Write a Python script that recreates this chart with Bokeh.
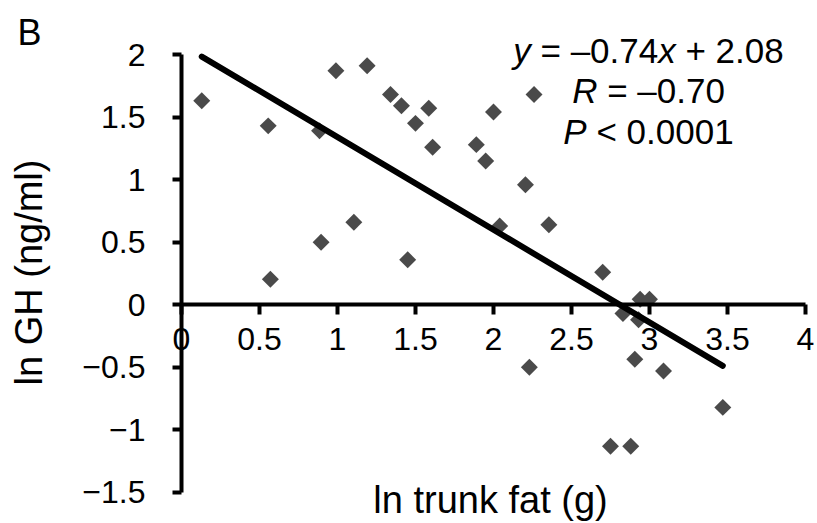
import numpy as np
from bokeh.plotting import figure
from bokeh.models import Range1d, LinearAxis, FixedTicker, Label
from bokeh.embed import file_html
from bokeh.resources import INLINE

# ln trunk fat (g) and ln GH (ng/ml) for each subject
ln_trunk_fat = [0.13, 0.556, 0.57, 0.885, 0.895, 0.99, 1.105, 1.19, 1.34, 1.41,
                1.45, 1.50, 1.585, 1.61, 1.89, 1.95, 2.00, 2.04, 2.205, 2.23,
                2.26, 2.355, 2.70, 2.75, 2.83, 2.88, 2.906, 2.93, 2.94, 3.00,
                3.09, 3.47]
ln_gh = [1.63, 1.43, 0.205, 1.39, 0.50, 1.87, 0.66, 1.91, 1.68, 1.59,
         0.36, 1.45, 1.57, 1.26, 1.28, 1.15, 1.54, 0.63, 0.96, -0.50,
         1.68, 0.64, 0.26, -1.13, -0.07, -1.13, -0.435, -0.12, 0.045, 0.045,
         -0.53, -0.82]

# Regression statistics
slope = -0.74
intercept = 2.08
r_value = -0.70
p_text = "< 0.0001"

x_ticks = [0, 0.5, 1, 1.5, 2, 2.5, 3, 3.5, 4]
x_tick_labels = ["0", "0.5", "1", "1.5", "2", "2.5", "3", "3.5", "4"]
y_ticks = [-1.5, -1, -0.5, 0, 0.5, 1, 1.5, 2]
y_tick_labels = ["\u22121.5", "\u22121", "\u22120.5", "0", "0.5", "1", "1.5", "2"]

FONT = "Liberation Sans"
PLOT_W, PLOT_H = 817, 523
# distance of the text's alphabetic baseline from the anchor Bokeh places it at
BASELINE_SHIFT = 0.3465


def at(px, py, size, angle=0.0):
    """Screen position (from the top-left corner) of a text baseline."""
    d = BASELINE_SHIFT * size
    return dict(x=px - d * np.sin(angle), y=PLOT_H - py + d * np.cos(angle),
                x_units="screen", y_units="screen")


# the frame covers the whole canvas; both axes are pinned at zero
p = figure(width=PLOT_W, height=PLOT_H, title=None,
           x_range=Range1d(-1.16, 4.077), y_range=Range1d(-1.748, 2.432),
           x_axis_location=None, y_axis_location=None,
           toolbar_location=None, output_backend="svg",
           min_border_left=0, min_border_right=0,
           min_border_top=0, min_border_bottom=0,
           outline_line_color=None, background_fill_color="white",
           border_fill_color="white")
p.xgrid.visible = False
p.ygrid.visible = False


def style_axis(ax, tick_out, standoff):
    ax.axis_line_width = 4
    ax.axis_line_color = "black"
    ax.major_tick_line_width = 4
    ax.major_tick_line_color = "black"
    ax.major_tick_out = tick_out
    ax.major_tick_in = 0
    ax.minor_tick_out = 0
    ax.minor_tick_in = 0
    ax.major_label_text_font = FONT
    ax.major_label_text_font_size = "32px"
    ax.major_label_text_color = "black"
    ax.major_label_standoff = standoff


yax = LinearAxis(fixed_location=0, bounds=(y_ticks[0], y_ticks[-1]),
                 ticker=FixedTicker(ticks=y_ticks),
                 major_label_overrides=dict(zip(y_ticks, y_tick_labels)))
style_axis(yax, 9, 27)
p.add_layout(yax, "left")

xax = LinearAxis(fixed_location=0, bounds=(x_ticks[0], x_ticks[-1]),
                 ticker=FixedTicker(ticks=x_ticks),
                 major_label_overrides=dict(zip(x_ticks, x_tick_labels)))
style_axis(xax, 10, 13)
p.add_layout(xax, "below")

# data points
p.scatter(ln_trunk_fat, ln_gh, marker="square", size=12, angle=np.pi / 4,
          fill_color="#4a4a4a", line_color=None)

# regression line across the observed range
fit_x = np.array([min(ln_trunk_fat), max(ln_trunk_fat)])
fit_y = slope * fit_x + intercept
p.line(fit_x, fit_y, line_width=6, line_color="black", line_cap="round")


def text_label(text, px, py, size, angle=0.0, align="center", style="normal"):
    p.add_layout(Label(text=text, **at(px, py, size, angle), angle=angle,
                       text_align=align, text_baseline="alphabetic",
                       text_font=FONT, text_font_size=f"{size}px",
                       text_font_style=style, text_color="black"))


# panel letter and axis titles
text_label("B", 29, 44, 36)
text_label("ln GH (ng/ml)", 42, 272, 38, angle=np.pi / 2)
text_label("ln trunk fat (g)", 490, 513, 38)

# regression annotation, italic symbols mixed with upright numbers
EQ_SIZE = 35
ADV = {" ": 0.278, "=": 0.584, "\u2013": 0.556, ".": 0.278, "+": 0.584,
       "<": 0.584, "y": 0.5, "x": 0.5, "R": 0.722, "P": 0.667}
ADV.update({d: 0.556 for d in "0123456789"})


def advance(s):
    return sum(ADV[c] for c in s) * EQ_SIZE


def signed(v):
    return f"{v:.2f}".replace("-", "\u2013")


eq_lines = [
    ([("y", True), (f" = {signed(slope)}", False), ("x", True),
      (f" + {intercept:.2f}", False)], 62),
    ([("R", True), (f" = {signed(r_value)}", False)], 102),
    ([("P", True), (f" {p_text}", False)], 143),
]
EQ_CENTER = 648
for segments, baseline in eq_lines:
    total = sum(advance(t) for t, _ in segments)
    cursor = EQ_CENTER - total / 2
    for text, italic in segments:
        lead = len(text) - len(text.lstrip(" "))
        text_label(text.strip(), cursor + advance(" " * lead), baseline, EQ_SIZE,
                   align="left", style="italic" if italic else "normal")
        cursor += advance(text)

open("out.html", "w").write(file_html(p, INLINE))
